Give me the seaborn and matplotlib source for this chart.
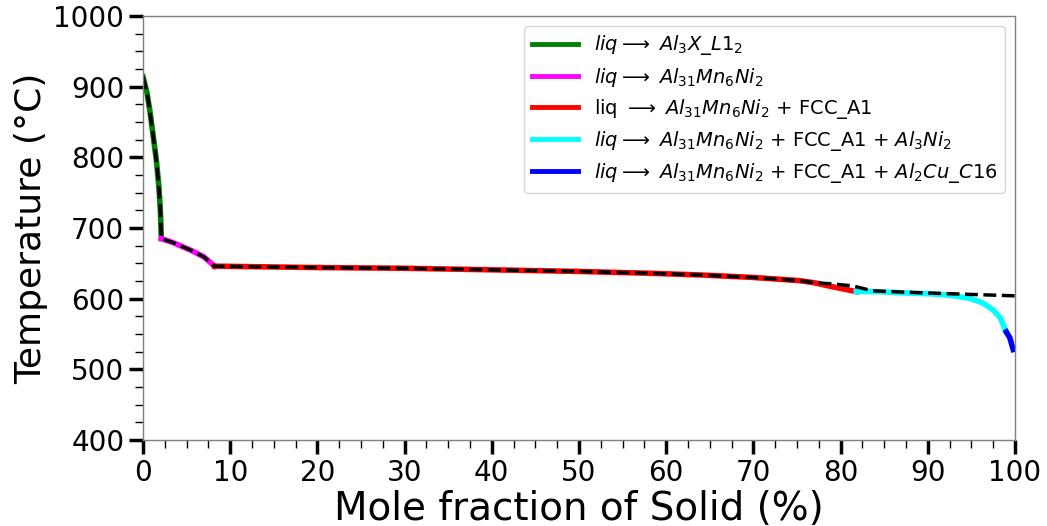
import matplotlib
matplotlib.use("Agg")
import matplotlib.pyplot as plt
import seaborn as sns
import pandas as pd
from matplotlib.ticker import MultipleLocator, AutoMinorLocator

# ---- data ----
green_x = [0.0, 0.46, 0.77, 1.15, 1.53, 1.8, 1.99, 2.1]
green_T = [914, 891, 867, 832, 796, 761, 725, 685]

magenta_x = [2.1, 3.5, 5.4, 7.0, 8.2]
magenta_T = [685, 679, 669, 659, 646]

red_x = [8.2, 20, 30, 41, 50, 58, 64, 70, 75.3, 77, 79, 81.8]
red_T = [646, 644, 643, 640.6, 638.5, 636, 633.5, 630, 625.5, 622.5, 617, 610]

cyan_x = [81.8, 84, 86.7, 90, 92.5, 94.8, 96.3, 97.5, 98.3, 98.9, 99.0]
cyan_T = [610, 610, 608.5, 607, 605, 600.5, 594, 584, 573, 556, 553]

blue_x = [99.0, 99.4, 99.8]
blue_T = [553, 545, 528]

# dashed curve: follows the segments until ~77 %, then its own tail
tail_x = [79, 81.4, 83.7, 90, 95, 100]
tail_T = [621, 618, 611, 608, 606, 604]

labels = [
    r'$liq \longrightarrow\ Al_3X\_L1_2$',
    r'$liq \longrightarrow\ Al_{31}Mn_6Ni_2$',
    r'liq $\longrightarrow$ $Al_{31}Mn_6Ni_2$ + FCC_A1',
    r'$liq \longrightarrow\ Al_{31}Mn_6Ni_2$ + FCC_A1 + $Al_3Ni_2$',
    r'$liq \longrightarrow\ Al_{31}Mn_6Ni_2$ + FCC_A1 + $Al_2Cu\_C16$',
]
colors = ['green', 'magenta', 'red', 'cyan', 'blue']
segments = [(green_x, green_T), (magenta_x, magenta_T), (red_x, red_T),
            (cyan_x, cyan_T), (blue_x, blue_T)]

fig = plt.figure(figsize=(10.47, 5.26), dpi=100)
ax = fig.add_axes([0.1366, 0.1635, 0.8328, 0.8061])

for (xs, ts), c, lab in zip(segments, colors, labels):
    df = pd.DataFrame({'x': xs, 'T': ts})
    sns.lineplot(data=df, x='x', y='T', color=c, lw=4, label=lab, ax=ax,
                 sort=False, estimator=None)

dash_x = green_x + magenta_x[1:] + red_x[1:10] + tail_x
dash_T = green_T + magenta_T[1:] + red_T[1:10] + tail_T
sns.lineplot(x=dash_x, y=dash_T, color='black', lw=2.5, linestyle='--',
             ax=ax, sort=False, estimator=None)

ax.set_xlim(0, 100)
ax.set_ylim(400, 1000)
ax.xaxis.set_major_locator(MultipleLocator(10))
ax.xaxis.set_minor_locator(AutoMinorLocator(4))
ax.yaxis.set_major_locator(MultipleLocator(100))
ax.yaxis.set_minor_locator(AutoMinorLocator(4))
ax.tick_params(which='major', length=10, width=2.5, labelsize=20)
ax.tick_params(which='minor', length=6, width=1)
for s in ax.spines.values():
    s.set_color('gray')
    s.set_linewidth(1)

ax.set_xlabel('Mole fraction of Solid (%)', fontsize=28, labelpad=2)
ax.set_ylabel('Temperature (°C)', fontsize=26, labelpad=4)

leg = ax.legend(loc='upper right', fontsize=14, handlelength=2.4,
                borderaxespad=0.5, labelspacing=0.42, handletextpad=0.8)
for h in leg.get_lines():
    h.set_linewidth(3.5)

fig.savefig('out.png', dpi=100)
